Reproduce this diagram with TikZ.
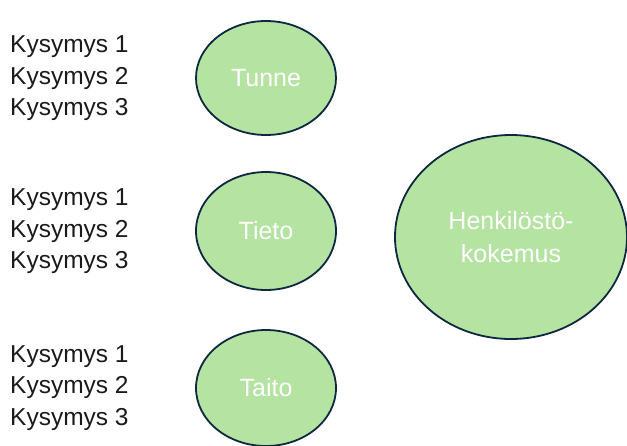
\documentclass[tikz,border=0pt]{standalone}
\usepackage{fontspec}
\setmainfont{Liberation Sans}
\usetikzlibrary{shapes.geometric}
\definecolor{fillgreen}{HTML}{B4E3A2}
\definecolor{edgenavy}{HTML}{0E2841}
\definecolor{txt}{HTML}{1A1A1A}
\tikzset{
  bubble/.style={ellipse, draw=edgenavy, fill=fillgreen, line width=1.8pt, inner sep=0pt,
    text=white, font=\fontsize{25}{33}\selectfont, align=center},
  qlist/.style={anchor=west, text=txt, align=left, inner sep=0pt,
    font=\fontsize{24.5}{31.6}\selectfont}
}
\begin{document}
\begin{tikzpicture}[x=1pt,y=-1pt]
\useasboundingbox (0,0) rectangle (627,445);
\node[qlist] (q1) at (10,78.5) {Kysymys 1\\Kysymys 2\\Kysymys 3};
\node[qlist] (q2) at (10,231.5) {Kysymys 1\\Kysymys 2\\Kysymys 3};
\node[qlist] (q3) at (10,388) {Kysymys 1\\Kysymys 2\\Kysymys 3};
\node[bubble, minimum width=140pt, minimum height=114pt] (tunne) at (266,78) {Tunne};
\node[bubble, minimum width=140pt, minimum height=118pt] (tieto) at (266,231) {Tieto};
\node[bubble, minimum width=140pt, minimum height=116pt] (taito) at (266,388) {Taito};
\node[bubble, minimum width=232pt, minimum height=204pt] (hk) at (511,237) {Henkilöstö-\\kokemus};
\end{tikzpicture}
\end{document}
